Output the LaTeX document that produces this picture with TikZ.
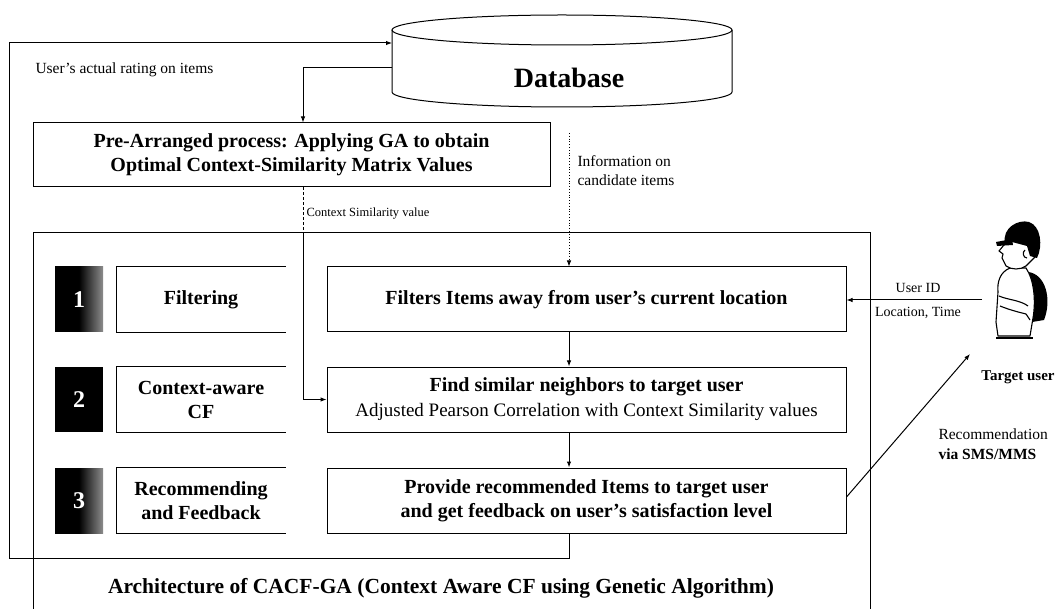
\documentclass[tikz,border=0pt]{standalone}
\usepackage{fontspec}
\setmainfont{Liberation Serif}
\usetikzlibrary{arrows.meta,calc}
\begin{document}
\begin{tikzpicture}[x=1pt,y=-1pt,
  line width=1pt,
  arr/.style={-{Latex[length=6pt,width=4.5pt]}},
  boxfont/.style={font=\fontsize{20}{24}\selectfont\bfseries},
  rbox/.style={draw, boxfont, minimum width=519pt, minimum height=65pt,
    inner sep=0pt, align=center},
  lbox/.style={boxfont, minimum width=168pt, minimum height=65pt,
    inner sep=0pt, align=center},
  numsq/.style={minimum width=48pt, minimum height=65pt, inner sep=0pt,
    text=white, font=\fontsize{24}{28}\selectfont\bfseries},
  fade/.style={numsq, shade, left color=black, right color=black!45, middle color=black},
  lab/.style={font=\fontsize{15.5}{19}\selectfont, inner sep=0pt, align=left},
  blab/.style={font=\fontsize{15}{18}\selectfont\bfseries, inner sep=0pt}
]
\useasboundingbox[fill=white] (0,0) rectangle (1057,609);

% ---------- database cylinder ----------
\draw[fill=white] (392,30) -- (392,92)
  .. controls (392,100.3) and (468.1,107) .. (562,107)
  .. controls (655.9,107) and (732,100.3) .. (732,92) -- (732,30);
\draw (392,30) .. controls (392,21.7) and (468.1,15) .. (562,15)
  .. controls (655.9,15) and (732,21.7) .. (732,30)
  .. controls (732,38.3) and (655.9,45) .. (562,45)
  .. controls (468.1,45) and (392,38.3) .. (392,30) -- cycle;
\node[font=\fontsize{28}{32}\selectfont\bfseries] (db) at (569,78) {Database};
\coordinate (dbin) at (392,43);
\coordinate (dbout) at (392,68);

% ---------- pre-arranged GA process ----------
\node[draw, boxfont, minimum width=517pt, minimum height=64pt, inner sep=0pt,
  align=center] (pre) at (291.5,155)
  {Pre-Arranged process: Applying GA to obtain\\Optimal Context-Similarity Matrix Values};

% ---------- architecture frame ----------
\draw (33,609) -- (33,233) -- (870,233) -- (870,609);
\node[font=\fontsize{21.5}{25}\selectfont\bfseries] (title) at (441,588)
  {Architecture of CACF-GA (Context Aware CF using Genetic Algorithm)};

% ---------- step markers ----------
\node[fade] (n1) at (79,299.5) {1};
\node[numsq, fill=black] (n2) at (79,399.5) {2};
\node[fade] (n3) at (79,500.5) {3};

% ---------- step names (open on the right) ----------
\node[lbox] (l1) at (201,299.5) {Filtering};
\node[lbox] (l2) at (201,399.5) {Context-aware\\CF};
\node[lbox] (l3) at (201,500.5) {Recommending\\and Feedback};
\foreach \b in {l1,l2,l3}
  \draw (\b.north east) -- (\b.north west) -- (\b.south west) -- (\b.south east);

% ---------- process boxes ----------
\node[rbox] (filt) at (586.5,299.5) {Filters Items away from user’s current location};
\node[rbox] (find) at (586.5,399.5) {Find similar neighbors to target user\\[1pt]
  {\fontsize{19}{22}\selectfont\mdseries Adjusted Pearson Correlation with Context Similarity values}};
\node[rbox] (prov) at (586.5,500.5) {Provide recommended Items to target user\\and get feedback on user’s satisfaction level};

% ---------- helper coordinates ----------
\coordinate (col) at (569,133);
\coordinate (cs) at (303,233);
\coordinate (lpTL) at (9,43);
\coordinate (lpBL) at (9,558);
\coordinate (lpBR) at (569,558);
\coordinate (uid) at (982,300);
\coordinate (rectip) at (970,354);

% ---------- connectors ----------
\draw[arr] (prov.south -| lpBR) -- (lpBR) -- (lpBL) -- (lpTL) -- (dbin);
\draw[arr] (dbout) -- (dbout -| cs) -- (pre.north -| cs);
\draw[dash pattern=on 3pt off 2pt, line width=0.7pt] (pre.south -| cs) -- (cs);
\draw[arr] (cs) -- (cs |- find.west) -- (find.west);
\draw[arr, dotted, line width=0.8pt] (col) -- (filt.north -| col);
\draw[arr] (filt.south -| col) -- (find.north -| col);
\draw[arr] (find.south -| col) -- (prov.north -| col);
\draw[arr] (uid) -- (uid -| filt.east);
\draw[arr] ($(prov.east)+(0,-3.5)$) -- (rectip);

% ---------- labels ----------
\node[lab, anchor=west] (rate) at (35,70) {User’s actual rating on items};
\node[lab, anchor=west, font=\fontsize{12.5}{15}\selectfont] (csv) at (306,214) {Context Similarity value};
\node[lab, anchor=north west] (info) at (577,155) {Information on\\candidate items};
\node[font=\fontsize{14}{17}\selectfont, inner sep=0pt] (uidl) at (918,288) {User ID};
\node[font=\fontsize{14}{17}\selectfont, inner sep=0pt] (loct) at (918,313) {Location, Time};
\node[lab, anchor=west] (rec1) at (938,434) {Recommendation};
\node[lab, anchor=west, font=\fontsize{15.5}{19}\selectfont\bfseries] (rec2) at (938,454) {via SMS/MMS};
\node[blab] (tu) at (1018,377) {Target user};

% ---------- target user figure ----------
\begin{scope}[line width=1.1pt, line join=round]
  % backpack
  \fill[black] (1028,272) .. controls (1046,274) and (1052,300) .. (1044,320)
    -- (1032,322) -- cycle;
  % torso and crossed arms
  \draw[fill=white] (1010,268) .. controls (1000,272) and (997,282) .. (998,292)
    -- (996,322) -- (998,336) -- (1030,336) -- (1033,318)
    .. controls (1036,300) and (1034,280) .. (1026,268) -- cycle;
  \draw (999,296) .. controls (1008,300) and (1020,300) .. (1028,306);
  \draw (1000,306) .. controls (1010,310) and (1018,312) .. (1026,314);
  \draw (1026,314) -- (1030,320);
  \draw (996,338) -- (1033,338);
  % face in profile
  \draw[fill=white] (1008,240) -- (999,251) -- (1003,254) -- (1002,258)
    -- (1004,262) -- (1006,266) .. controls (1012,270) and (1020,270) .. (1026,266)
    -- (1036,256) -- (1036,240) -- cycle;
  % cap
  \fill[black] (1005,243) .. controls (1002,228) and (1018,219) .. (1029,222)
    .. controls (1041,226) and (1043,246) .. (1037,258) -- (1030,256)
    -- (1027,246) -- (1012,242) -- cycle;
  \fill[black] (1012,239) -- (996,242) -- (997,246) -- (1013,245) -- cycle;
  % ear
  \draw (1025,250) .. controls (1022,252) and (1023,258) .. (1027,258);
\end{scope}
\end{tikzpicture}
\end{document}
